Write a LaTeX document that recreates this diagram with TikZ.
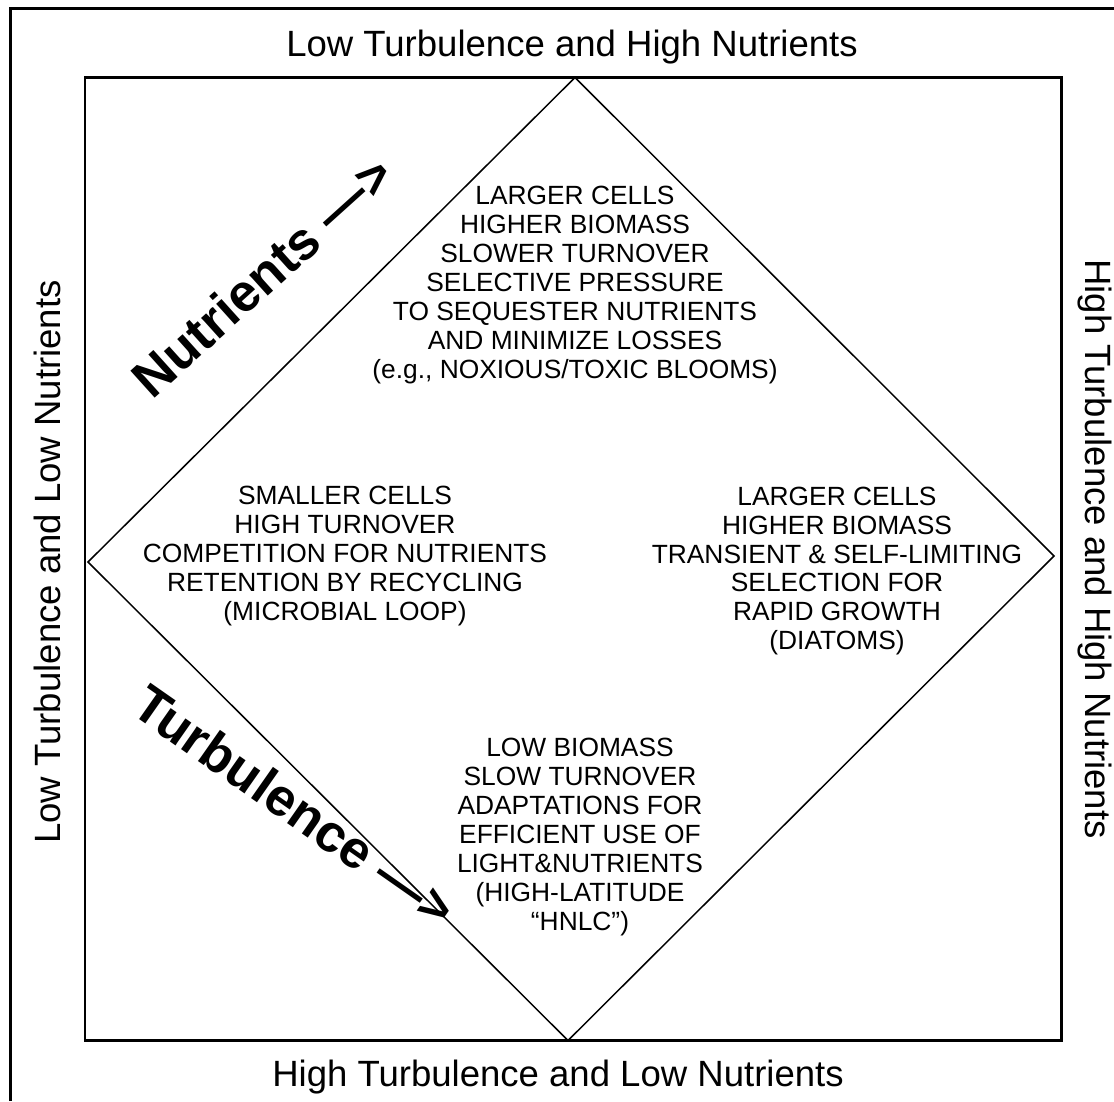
\documentclass[tikz,border=0pt]{standalone}
\usepackage{fontspec}
\setmainfont{Liberation Sans}
\usetikzlibrary{calc}

\tikzset{
  % For the thick frame round the whole figure.
  frame/.style={
    line width=1.7pt},
%
  % For the square that holds the diamond.
  box/.style={
    line width=1.4pt},
%
  % For the diamond.
  line/.style={
    line width=0.85pt,
    line join=miter},
%
  % For the labels on the four sides.
  side/.style={
    inner sep=0pt,
    anchor=base,
    font=\fontsize{20.8}{25}\selectfont},
%
  % For the texts in the four corners of the diamond.
  regime/.style={
    inner sep=0pt,
    align=center,
    font=\fontsize{15}{16.45}\selectfont},
%
  % For the bold labels with their arrows.
  gradient/.style={
    inner sep=0pt,
    font=\fontsize{30}{36}\selectfont\bfseries}
}

\begin{document}
\begin{tikzpicture}[x=0.02cm, y=-0.02cm]
  \useasboundingbox (0,0) rectangle (1114,1101);

  \draw[frame] (10.5,1101) -- (10.5,8.5) -- (1114,8.5);
  \draw[box] (85,77.5) rectangle (1061.5,1040.5);

  \coordinate (top) at (575,77.5);
  \coordinate (right) at (1054,556);
  \coordinate (bottom) at (568,1040.5);
  \coordinate (left) at (88,562);
  \draw[line] (top) -- (right) -- (bottom) -- (left) -- cycle;

  \node[side] (north) at (572,57) {Low Turbulence and High Nutrients};
  \node[side] (south) at (558,1086) {High Turbulence and Low Nutrients};
  \node[side, rotate=90] (west) at (60,562) {Low Turbulence and Low Nutrients};
  \node[side, rotate=-90] (east) at (1085,549) {High Turbulence and High Nutrients};

  \node[regime] (bloom) at (575,285) {LARGER CELLS\\HIGHER BIOMASS\\SLOWER TURNOVER\\SELECTIVE PRESSURE\\TO SEQUESTER NUTRIENTS\\AND MINIMIZE LOSSES\\(e.g., NOXIOUS/TOXIC BLOOMS)};
  \node[regime] (loop) at (345,556) {SMALLER CELLS\\HIGH TURNOVER\\COMPETITION FOR NUTRIENTS\\RETENTION BY RECYCLING\\(MICROBIAL LOOP)};
  \node[regime] (diatoms) at (837,571) {LARGER CELLS\\HIGHER BIOMASS\\TRANSIENT \& SELF-LIMITING\\SELECTION FOR\\RAPID GROWTH\\(DIATOMS)};
  \node[regime] (hnlc) at (580,837) {LOW BIOMASS\\SLOW TURNOVER\\ADAPTATIONS FOR\\EFFICIENT USE OF\\LIGHT\&NUTRIENTS\\(HIGH-LATITUDE\\“HNLC”)};

  \node[gradient, rotate=42] (nutrients) at (262,276) {Nutrients —>};
  \node[gradient, rotate=-35] (turbulence) at (295,806) {Turbulence —>};
\end{tikzpicture}
\end{document}
